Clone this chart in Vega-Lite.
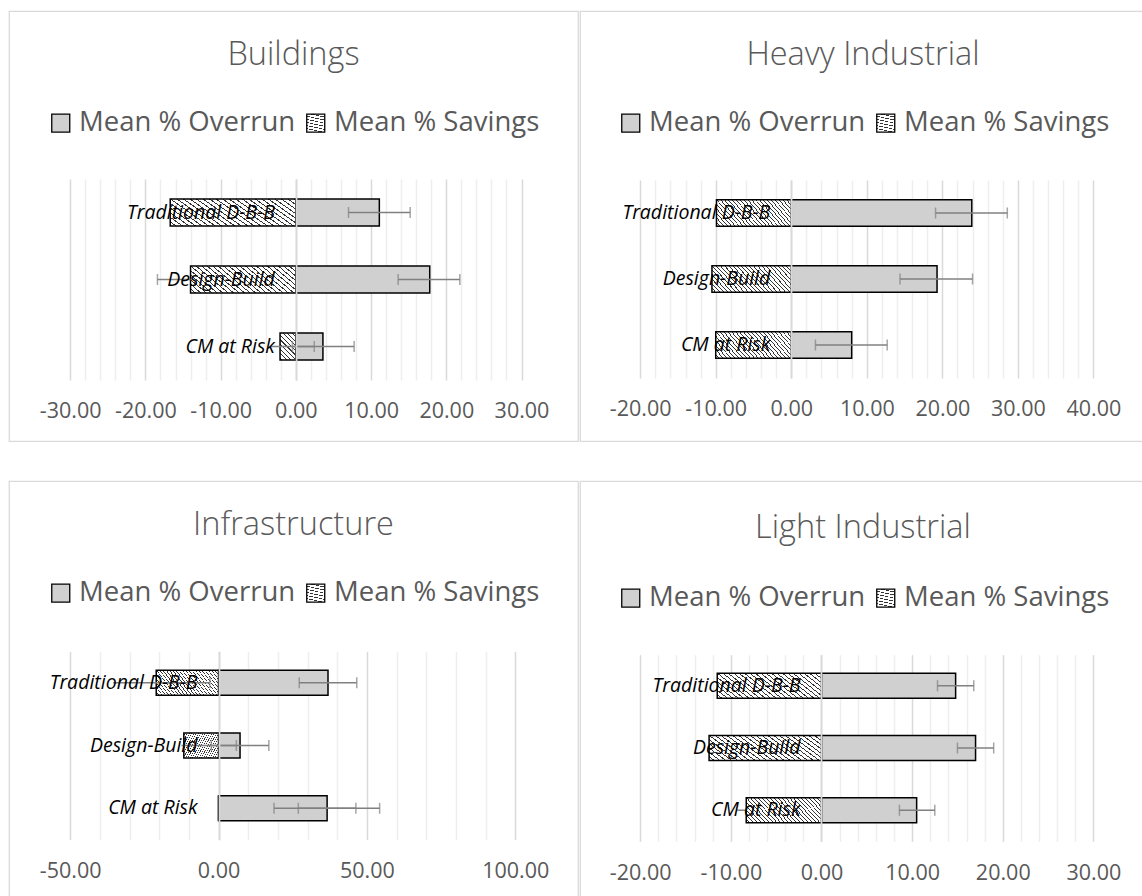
{
  "$schema": "https://vega.github.io/schema/vega-lite/v6.json",
  "background": "white",
  "padding": {"left": 8, "top": 10, "right": 0, "bottom": 0},
  "params": [
    {"name": "hatch", "value": {"gradient": "linear", "x1": 0, "y1": 1, "x2": 1.19, "y2": 0.64, "stops": [
      {"offset": 0, "color": "#ffffff"}, {"offset": 0.03, "color": "#ffffff"}, {"offset": 0.03, "color": "#333333"}, {"offset": 0.04, "color": "#333333"},
      {"offset": 0.04, "color": "#ffffff"}, {"offset": 0.07, "color": "#ffffff"}, {"offset": 0.07, "color": "#333333"}, {"offset": 0.08, "color": "#333333"},
      {"offset": 0.08, "color": "#ffffff"}, {"offset": 0.11, "color": "#ffffff"}, {"offset": 0.11, "color": "#333333"}, {"offset": 0.12, "color": "#333333"},
      {"offset": 0.12, "color": "#ffffff"}, {"offset": 0.15, "color": "#ffffff"}, {"offset": 0.15, "color": "#333333"}, {"offset": 0.16, "color": "#333333"},
      {"offset": 0.16, "color": "#ffffff"}, {"offset": 0.19, "color": "#ffffff"}, {"offset": 0.19, "color": "#333333"}, {"offset": 0.2, "color": "#333333"},
      {"offset": 0.2, "color": "#ffffff"}, {"offset": 0.23, "color": "#ffffff"}, {"offset": 0.23, "color": "#333333"}, {"offset": 0.24, "color": "#333333"},
      {"offset": 0.24, "color": "#ffffff"}, {"offset": 0.27, "color": "#ffffff"}, {"offset": 0.27, "color": "#333333"}, {"offset": 0.28, "color": "#333333"},
      {"offset": 0.28, "color": "#ffffff"}, {"offset": 0.31, "color": "#ffffff"}, {"offset": 0.31, "color": "#333333"}, {"offset": 0.32, "color": "#333333"},
      {"offset": 0.32, "color": "#ffffff"}, {"offset": 0.35, "color": "#ffffff"}, {"offset": 0.35, "color": "#333333"}, {"offset": 0.36, "color": "#333333"},
      {"offset": 0.36, "color": "#ffffff"}, {"offset": 0.39, "color": "#ffffff"}, {"offset": 0.39, "color": "#333333"}, {"offset": 0.4, "color": "#333333"},
      {"offset": 0.4, "color": "#ffffff"}, {"offset": 0.43, "color": "#ffffff"}, {"offset": 0.43, "color": "#333333"}, {"offset": 0.44, "color": "#333333"},
      {"offset": 0.44, "color": "#ffffff"}, {"offset": 0.47, "color": "#ffffff"}, {"offset": 0.47, "color": "#333333"}, {"offset": 0.48, "color": "#333333"},
      {"offset": 0.48, "color": "#ffffff"}, {"offset": 0.51, "color": "#ffffff"}, {"offset": 0.51, "color": "#333333"}, {"offset": 0.52, "color": "#333333"},
      {"offset": 0.52, "color": "#ffffff"}, {"offset": 0.55, "color": "#ffffff"}, {"offset": 0.55, "color": "#333333"}, {"offset": 0.56, "color": "#333333"},
      {"offset": 0.56, "color": "#ffffff"}, {"offset": 0.59, "color": "#ffffff"}, {"offset": 0.59, "color": "#333333"}, {"offset": 0.6, "color": "#333333"},
      {"offset": 0.6, "color": "#ffffff"}, {"offset": 0.63, "color": "#ffffff"}, {"offset": 0.63, "color": "#333333"}, {"offset": 0.64, "color": "#333333"},
      {"offset": 0.64, "color": "#ffffff"}, {"offset": 0.67, "color": "#ffffff"}, {"offset": 0.67, "color": "#333333"}, {"offset": 0.68, "color": "#333333"},
      {"offset": 0.68, "color": "#ffffff"}, {"offset": 0.71, "color": "#ffffff"}, {"offset": 0.71, "color": "#333333"}, {"offset": 0.72, "color": "#333333"},
      {"offset": 0.72, "color": "#ffffff"}, {"offset": 0.75, "color": "#ffffff"}, {"offset": 0.75, "color": "#333333"}, {"offset": 0.76, "color": "#333333"},
      {"offset": 0.76, "color": "#ffffff"}, {"offset": 0.79, "color": "#ffffff"}, {"offset": 0.79, "color": "#333333"}, {"offset": 0.8, "color": "#333333"},
      {"offset": 0.8, "color": "#ffffff"}, {"offset": 0.83, "color": "#ffffff"}, {"offset": 0.83, "color": "#333333"}, {"offset": 0.84, "color": "#333333"},
      {"offset": 0.84, "color": "#ffffff"}, {"offset": 0.87, "color": "#ffffff"}, {"offset": 0.87, "color": "#333333"}, {"offset": 0.88, "color": "#333333"},
      {"offset": 0.88, "color": "#ffffff"}, {"offset": 0.91, "color": "#ffffff"}, {"offset": 0.91, "color": "#333333"}, {"offset": 0.92, "color": "#333333"},
      {"offset": 0.92, "color": "#ffffff"}, {"offset": 0.95, "color": "#ffffff"}, {"offset": 0.95, "color": "#333333"}, {"offset": 0.96, "color": "#333333"},
      {"offset": 0.96, "color": "#ffffff"}, {"offset": 0.99, "color": "#ffffff"}, {"offset": 0.99, "color": "#333333"}, {"offset": 1, "color": "#333333"}
    ]}}
  ],
  "datasets": {
    "buildings": [
      {"method": "Traditional D-B-B", "series": "Mean % Overrun", "value": 11.1},
      {"method": "Traditional D-B-B", "series": "Mean % Savings", "value": -16.7},
      {"method": "Design-Build", "series": "Mean % Overrun", "value": 17.8},
      {"method": "Design-Build", "series": "Mean % Savings", "value": -14.0},
      {"method": "CM at Risk", "series": "Mean % Overrun", "value": 3.6},
      {"method": "CM at Risk", "series": "Mean % Savings", "value": -2.1}
    ],
    "buildingsErr": [
      {"method": "Traditional D-B-B", "lo": 7.0, "hi": 15.2, "capLo": 7.0, "capHi": 15.2},
      {"method": "Design-Build", "lo": 13.6, "hi": 21.8, "capLo": 13.6, "capHi": 21.8},
      {"method": "Design-Build", "lo": -18.4, "hi": -14.0, "capLo": -18.4, "capHi": null},
      {"method": "CM at Risk", "lo": -0.45, "hi": 7.75, "capLo": -0.45, "capHi": 7.75},
      {"method": "CM at Risk", "lo": -3.3, "hi": 2.45, "capLo": null, "capHi": 2.45}
    ],
    "heavy": [
      {"method": "Traditional D-B-B", "series": "Mean % Overrun", "value": 23.9},
      {"method": "Traditional D-B-B", "series": "Mean % Savings", "value": -9.9},
      {"method": "Design-Build", "series": "Mean % Overrun", "value": 19.3},
      {"method": "Design-Build", "series": "Mean % Savings", "value": -10.5},
      {"method": "CM at Risk", "series": "Mean % Overrun", "value": 8.0},
      {"method": "CM at Risk", "series": "Mean % Savings", "value": -10.0}
    ],
    "heavyErr": [
      {"method": "Traditional D-B-B", "lo": 19.1, "hi": 28.6, "capLo": 19.1, "capHi": 28.6},
      {"method": "Design-Build", "lo": 14.4, "hi": 24.0, "capLo": 14.4, "capHi": 24.0},
      {"method": "CM at Risk", "lo": 3.2, "hi": 12.7, "capLo": 3.2, "capHi": 12.7}
    ],
    "infra": [
      {"method": "Traditional D-B-B", "series": "Mean % Overrun", "value": 36.9},
      {"method": "Traditional D-B-B", "series": "Mean % Savings", "value": -21.0},
      {"method": "Design-Build", "series": "Mean % Overrun", "value": 7.25},
      {"method": "Design-Build", "series": "Mean % Savings", "value": -11.7},
      {"method": "CM at Risk", "series": "Mean % Overrun", "value": 36.6},
      {"method": "CM at Risk", "series": "Mean % Savings", "value": 0}
    ],
    "infraErr": [
      {"method": "Traditional D-B-B", "lo": 27.2, "hi": 46.6, "capLo": 27.2, "capHi": 46.6},
      {"method": "Traditional D-B-B", "lo": -35.5, "hi": -2.9, "capLo": null, "capHi": -2.9},
      {"method": "Design-Build", "lo": -2.45, "hi": 16.95, "capLo": -2.45, "capHi": 16.95},
      {"method": "Design-Build", "lo": -12.5, "hi": 6.0, "capLo": null, "capHi": 6.0},
      {"method": "CM at Risk", "lo": 26.9, "hi": 46.3, "capLo": 26.9, "capHi": 46.3},
      {"method": "CM at Risk", "lo": 18.7, "hi": 54.3, "capLo": 18.7, "capHi": 54.3}
    ],
    "light": [
      {"method": "Traditional D-B-B", "series": "Mean % Overrun", "value": 14.8},
      {"method": "Traditional D-B-B", "series": "Mean % Savings", "value": -11.5},
      {"method": "Design-Build", "series": "Mean % Overrun", "value": 17.0},
      {"method": "Design-Build", "series": "Mean % Savings", "value": -12.4},
      {"method": "CM at Risk", "series": "Mean % Overrun", "value": 10.5},
      {"method": "CM at Risk", "series": "Mean % Savings", "value": -8.3}
    ],
    "lightErr": [
      {"method": "Traditional D-B-B", "lo": 12.8, "hi": 16.8, "capLo": 12.8, "capHi": 16.8},
      {"method": "Design-Build", "lo": 15.0, "hi": 19.0, "capLo": 15.0, "capHi": 19.0},
      {"method": "CM at Risk", "lo": 8.6, "hi": 12.5, "capLo": 8.6, "capHi": 12.5},
      {"method": "CM at Risk", "lo": -9.3, "hi": -8.3, "capLo": null, "capHi": null}
    ]
  },
  "config": {
    "view": {"stroke": "#d9d9d9", "strokeWidth": 1.25},
    "font": "Open Sans",
    "title": {"font": "Open Sans", "fontSize": 32.5, "fontWeight": 300, "color": "#595959", "anchor": "middle", "frame": "group"},
    "axis": {"labelFont": "Open Sans", "labelFontSize": 21.5, "labelColor": "#595959", "domain": false, "ticks": false, "title": null, "labelPadding": 0, "labelOverlap": false, "labelFlush": false},
    "legend": {"symbolType": "square", "symbolSize": 324, "symbolStrokeColor": "#000000", "symbolStrokeWidth": 1.3, "labelFont": "Open Sans", "labelFontSize": 27.5, "labelColor": "#595959", "labelLimit": 400, "columnPadding": 6, "labelOffset": 4.5, "padding": 0, "direction": "horizontal", "orient": "none"}
  },
  "columns": 2,
  "spacing": {"row": 38, "column": 0},
  "resolve": {"scale": {"x": "independent", "y": "independent", "fill": "independent"}, "legend": {"fill": "independent"}},
  "concat": [
    {
      "width": 569, "height": 430,
      "title": {"text": "Buildings", "offset": -60},
      "data": {"name": "buildings"},
      "layer": [
        {
          "mark": {"type": "bar", "stroke": "#000000", "strokeWidth": 1.5},
          "encoding": {
            "y": {"field": "method", "type": "nominal", "sort": ["Traditional D-B-B", "Design-Build", "CM at Risk"], "axis": null, "scale": {"range": [168, 369], "paddingInner": 0.6, "paddingOuter": 0.3}},
            "x": {"field": "value", "type": "quantitative", "stack": null, "scale": {"domain": [-30, 30], "range": [61.2, 512.5], "nice": false, "zero": false},
              "axis": {"orient": "top", "values": [-30,-28,-26,-24,-22,-20,-18,-16,-14,-12,-10,-8,-6,-4,-2,0,2,4,6,8,10,12,14,16,18,20,22,24,26,28,30], "grid": true, "labels": false, "gridWidth": 1.5, "gridColor": {"condition": {"test": "datum.value % 10 === 0", "value": "#d9d9d9"}, "value": "#eeeeee"}}},
            "x2": {"datum": 0},
            "fill": {"field": "series", "type": "nominal", "scale": {"domain": ["Mean % Overrun", "Mean % Savings"], "range": ["#d0d0d0", {"expr": "hatch"}]}, "legend": {"title": null, "legendX": 38, "legendY": 98}}
          }
        },
        {
          "data": {"name": "buildingsErr"},
          "mark": {"type": "rule", "color": "#808080", "strokeWidth": 1.5},
          "encoding": {
            "y": {"field": "method", "type": "nominal", "sort": ["Traditional D-B-B", "Design-Build", "CM at Risk"]},
            "x": {"field": "lo", "type": "quantitative", "axis": {"orient": "bottom", "values": [-30,-20,-10,0,10,20,30], "grid": false, "offset": -40.3, "labelExpr": "(datum.value < 0 ? '-' : '') + format(abs(datum.value), '.2f')"}},
            "x2": {"field": "hi"}
          }
        },
        {
          "data": {"name": "buildingsErr"},
          "mark": {"type": "tick", "color": "#808080", "thickness": 1.5, "size": 11},
          "encoding": {
            "y": {"field": "method", "type": "nominal", "sort": ["Traditional D-B-B", "Design-Build", "CM at Risk"]},
            "x": {"field": "capLo", "type": "quantitative", "axis": null}
          }
        },
        {
          "data": {"name": "buildingsErr"},
          "mark": {"type": "tick", "color": "#808080", "thickness": 1.5, "size": 11},
          "encoding": {
            "y": {"field": "method", "type": "nominal", "sort": ["Traditional D-B-B", "Design-Build", "CM at Risk"]},
            "x": {"field": "capHi", "type": "quantitative", "axis": {"orient": "top", "values": [0], "grid": true, "labels": false, "gridColor": "#d9d9d9", "gridWidth": 1.75, "zindex": 1}}
          }
        },
        {
          "transform": [{"filter": "datum.series === 'Mean % Overrun'"}],
          "mark": {"type": "text", "align": "right", "baseline": "middle", "dx": -21, "font": "Open Sans", "fontStyle": "italic", "fontSize": 19.5, "color": "#000000"},
          "encoding": {
            "y": {"field": "method", "type": "nominal", "sort": ["Traditional D-B-B", "Design-Build", "CM at Risk"]},
            "x": {"datum": 0, "type": "quantitative", "axis": null},
            "text": {"field": "method"}
          }
        }
      ],
      "resolve": {"axis": {"x": "independent"}}
    },
    {
      "width": 566, "height": 430,
      "title": {"text": "Heavy Industrial", "offset": -60},
      "data": {"name": "heavy"},
      "layer": [
        {
          "mark": {"type": "bar", "stroke": "#000000", "strokeWidth": 1.5},
          "encoding": {
            "y": {"field": "method", "type": "nominal", "sort": ["Traditional D-B-B", "Design-Build", "CM at Risk"], "axis": null, "scale": {"range": [169, 367], "paddingInner": 0.6, "paddingOuter": 0.3}},
            "x": {"field": "value", "type": "quantitative", "stack": null, "scale": {"domain": [-20, 40], "range": [60.2, 513.4], "nice": false, "zero": false},
              "axis": {"orient": "top", "values": [-20,-18,-16,-14,-12,-10,-8,-6,-4,-2,0,2,4,6,8,10,12,14,16,18,20,22,24,26,28,30,32,34,36,38,40], "grid": true, "labels": false, "gridWidth": 1.5, "gridColor": {"condition": {"test": "datum.value % 10 === 0", "value": "#d9d9d9"}, "value": "#eeeeee"}}},
            "x2": {"datum": 0},
            "fill": {"field": "series", "type": "nominal", "scale": {"domain": ["Mean % Overrun", "Mean % Savings"], "range": ["#d0d0d0", {"expr": "hatch"}]}, "legend": {"title": null, "legendX": 37, "legendY": 98}}
          }
        },
        {
          "data": {"name": "heavyErr"},
          "mark": {"type": "rule", "color": "#808080", "strokeWidth": 1.5},
          "encoding": {
            "y": {"field": "method", "type": "nominal", "sort": ["Traditional D-B-B", "Design-Build", "CM at Risk"]},
            "x": {"field": "lo", "type": "quantitative", "axis": {"orient": "bottom", "values": [-20,-10,0,10,20,30,40], "grid": false, "offset": -42.3, "labelExpr": "(datum.value < 0 ? '-' : '') + format(abs(datum.value), '.2f')"}},
            "x2": {"field": "hi"}
          }
        },
        {
          "data": {"name": "heavyErr"},
          "mark": {"type": "tick", "color": "#808080", "thickness": 1.5, "size": 11},
          "encoding": {
            "y": {"field": "method", "type": "nominal", "sort": ["Traditional D-B-B", "Design-Build", "CM at Risk"]},
            "x": {"field": "capLo", "type": "quantitative", "axis": null}
          }
        },
        {
          "data": {"name": "heavyErr"},
          "mark": {"type": "tick", "color": "#808080", "thickness": 1.5, "size": 11},
          "encoding": {
            "y": {"field": "method", "type": "nominal", "sort": ["Traditional D-B-B", "Design-Build", "CM at Risk"]},
            "x": {"field": "capHi", "type": "quantitative", "axis": {"orient": "top", "values": [0], "grid": true, "labels": false, "gridColor": "#d9d9d9", "gridWidth": 1.75, "zindex": 1}}
          }
        },
        {
          "transform": [{"filter": "datum.series === 'Mean % Overrun'"}],
          "mark": {"type": "text", "align": "right", "baseline": "middle", "dx": -21, "font": "Open Sans", "fontStyle": "italic", "fontSize": 19.5, "color": "#000000"},
          "encoding": {
            "y": {"field": "method", "type": "nominal", "sort": ["Traditional D-B-B", "Design-Build", "CM at Risk"]},
            "x": {"datum": 0, "type": "quantitative", "axis": null},
            "text": {"field": "method"}
          }
        }
      ],
      "resolve": {"axis": {"x": "independent"}}
    },
    {
      "width": 569, "height": 419,
      "title": {"text": "Infrastructure", "offset": -60},
      "data": {"name": "infra"},
      "layer": [
        {
          "mark": {"type": "bar", "stroke": "#000000", "strokeWidth": 1.5},
          "encoding": {
            "y": {"field": "method", "type": "nominal", "sort": ["Traditional D-B-B", "Design-Build", "CM at Risk"], "axis": null, "scale": {"range": [170.3, 358.7], "paddingInner": 0.6, "paddingOuter": 0.3}},
            "x": {"field": "value", "type": "quantitative", "stack": null, "scale": {"domain": [-50, 100], "range": [61.2, 506.2], "nice": false, "zero": false},
              "axis": {"orient": "top", "values": [-50,-40,-30,-20,-10,0,10,20,30,40,50,60,70,80,90,100], "grid": true, "labels": false, "gridWidth": 1.5, "gridColor": {"condition": {"test": "datum.value % 50 === 0", "value": "#d9d9d9"}, "value": "#eeeeee"}}},
            "x2": {"datum": 0},
            "fill": {"field": "series", "type": "nominal", "scale": {"domain": ["Mean % Overrun", "Mean % Savings"], "range": ["#d0d0d0", {"expr": "hatch"}]}, "legend": {"title": null, "legendX": 38, "legendY": 98}}
          }
        },
        {
          "data": {"name": "infraErr"},
          "mark": {"type": "rule", "color": "#808080", "strokeWidth": 1.5},
          "encoding": {
            "y": {"field": "method", "type": "nominal", "sort": ["Traditional D-B-B", "Design-Build", "CM at Risk"]},
            "x": {"field": "lo", "type": "quantitative", "axis": {"orient": "bottom", "values": [-50,0,50,100], "grid": false, "offset": -39.6, "labelExpr": "(datum.value < 0 ? '-' : '') + format(abs(datum.value), '.2f')"}},
            "x2": {"field": "hi"}
          }
        },
        {
          "data": {"name": "infraErr"},
          "mark": {"type": "tick", "color": "#808080", "thickness": 1.5, "size": 11},
          "encoding": {
            "y": {"field": "method", "type": "nominal", "sort": ["Traditional D-B-B", "Design-Build", "CM at Risk"]},
            "x": {"field": "capLo", "type": "quantitative", "axis": null}
          }
        },
        {
          "data": {"name": "infraErr"},
          "mark": {"type": "tick", "color": "#808080", "thickness": 1.5, "size": 11},
          "encoding": {
            "y": {"field": "method", "type": "nominal", "sort": ["Traditional D-B-B", "Design-Build", "CM at Risk"]},
            "x": {"field": "capHi", "type": "quantitative", "axis": {"orient": "top", "values": [0], "grid": true, "labels": false, "gridColor": "#d9d9d9", "gridWidth": 1.75, "zindex": 1}}
          }
        },
        {
          "transform": [{"filter": "datum.series === 'Mean % Overrun'"}],
          "mark": {"type": "text", "align": "right", "baseline": "middle", "dx": -21, "font": "Open Sans", "fontStyle": "italic", "fontSize": 19.5, "color": "#000000"},
          "encoding": {
            "y": {"field": "method", "type": "nominal", "sort": ["Traditional D-B-B", "Design-Build", "CM at Risk"]},
            "x": {"datum": 0, "type": "quantitative", "axis": null},
            "text": {"field": "method"}
          }
        }
      ],
      "resolve": {"axis": {"x": "independent"}}
    },
    {
      "width": 566, "height": 419,
      "title": {"text": "Light Industrial", "offset": -63},
      "data": {"name": "light"},
      "layer": [
        {
          "mark": {"type": "bar", "stroke": "#000000", "strokeWidth": 1.5},
          "encoding": {
            "y": {"field": "method", "type": "nominal", "sort": ["Traditional D-B-B", "Design-Build", "CM at Risk"], "axis": null, "scale": {"range": [173.7, 360.3], "paddingInner": 0.6, "paddingOuter": 0.3}},
            "x": {"field": "value", "type": "quantitative", "stack": null, "scale": {"domain": [-20, 30], "range": [60.2, 513.4], "nice": false, "zero": false},
              "axis": {"orient": "top", "values": [-20,-18,-16,-14,-12,-10,-8,-6,-4,-2,0,2,4,6,8,10,12,14,16,18,20,22,24,26,28,30], "grid": true, "labels": false, "gridWidth": 1.5, "gridColor": {"condition": {"test": "datum.value % 10 === 0", "value": "#d9d9d9"}, "value": "#eeeeee"}}},
            "x2": {"datum": 0},
            "fill": {"field": "series", "type": "nominal", "scale": {"domain": ["Mean % Overrun", "Mean % Savings"], "range": ["#d0d0d0", {"expr": "hatch"}]}, "legend": {"title": null, "legendX": 37, "legendY": 103}}
          }
        },
        {
          "data": {"name": "lightErr"},
          "mark": {"type": "rule", "color": "#808080", "strokeWidth": 1.5},
          "encoding": {
            "y": {"field": "method", "type": "nominal", "sort": ["Traditional D-B-B", "Design-Build", "CM at Risk"]},
            "x": {"field": "lo", "type": "quantitative", "axis": {"orient": "bottom", "values": [-20,-10,0,10,20,30], "grid": false, "offset": -38, "labelExpr": "(datum.value < 0 ? '-' : '') + format(abs(datum.value), '.2f')"}},
            "x2": {"field": "hi"}
          }
        },
        {
          "data": {"name": "lightErr"},
          "mark": {"type": "tick", "color": "#808080", "thickness": 1.5, "size": 11},
          "encoding": {
            "y": {"field": "method", "type": "nominal", "sort": ["Traditional D-B-B", "Design-Build", "CM at Risk"]},
            "x": {"field": "capLo", "type": "quantitative", "axis": null}
          }
        },
        {
          "data": {"name": "lightErr"},
          "mark": {"type": "tick", "color": "#808080", "thickness": 1.5, "size": 11},
          "encoding": {
            "y": {"field": "method", "type": "nominal", "sort": ["Traditional D-B-B", "Design-Build", "CM at Risk"]},
            "x": {"field": "capHi", "type": "quantitative", "axis": {"orient": "top", "values": [0], "grid": true, "labels": false, "gridColor": "#d9d9d9", "gridWidth": 1.75, "zindex": 1}}
          }
        },
        {
          "transform": [{"filter": "datum.series === 'Mean % Overrun'"}],
          "mark": {"type": "text", "align": "right", "baseline": "middle", "dx": -21, "font": "Open Sans", "fontStyle": "italic", "fontSize": 19.5, "color": "#000000"},
          "encoding": {
            "y": {"field": "method", "type": "nominal", "sort": ["Traditional D-B-B", "Design-Build", "CM at Risk"]},
            "x": {"datum": 0, "type": "quantitative", "axis": null},
            "text": {"field": "method"}
          }
        }
      ],
      "resolve": {"axis": {"x": "independent"}}
    }
  ]
}
